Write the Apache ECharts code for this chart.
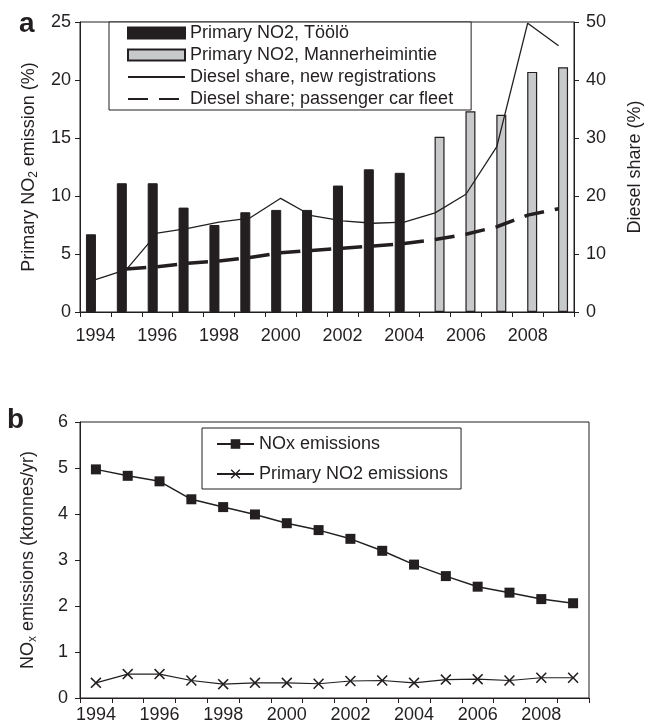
<!DOCTYPE html>
<html>
<head>
<meta charset="utf-8">
<script src="https://cdn.jsdelivr.net/npm/echarts@6/dist/echarts.min.js"></script>
<style>
html,body{margin:0;padding:0;background:#fff;}
#c{width:652px;height:725px;}
</style>
</head>
<body>
<div id="c"></div>
<script>
var years = ['1994','1995','1996','1997','1998','1999','2000','2001','2002','2003','2004','2005','2006','2007','2008','2009'];
var tooloNO2 = [6.7, 11.1, 11.1, 9.0, 7.5, 8.6, 8.8, 8.8, 10.9, 12.3, 12.0, null, null, null, null, null];
var mannerNO2 = [null, null, null, null, null, null, null, null, null, null, null, 15.1, 17.3, 17.0, 20.7, 21.1];
var dieselNew = [5.6, 7.3, 13.6, 14.4, 15.5, 16.2, 19.6, 16.6, 15.7, 15.3, 15.5, 17.1, 20.3, 28.5, 49.8, 45.9];
var dieselFleet = [null, 7.4, 7.8, 8.4, 8.8, 9.4, 10.2, 10.6, 11.0, 11.4, 11.8, 12.5, 13.4, 14.7, 16.7, 17.8];
var noxEmis = [4.97, 4.83, 4.71, 4.32, 4.15, 3.99, 3.80, 3.65, 3.46, 3.20, 2.90, 2.65, 2.42, 2.29, 2.15, 2.06];
var primNO2Emis = [0.33, 0.52, 0.52, 0.38, 0.30, 0.33, 0.33, 0.31, 0.37, 0.38, 0.33, 0.40, 0.41, 0.38, 0.44, 0.44];

var INK = '#231f20';
var FONT = "'Liberation Sans', Arial, sans-serif";
var FS = 18;
var chart = echarts.init(document.getElementById('c'), null, {renderer: 'canvas'});

function xAxisCfg(gridIndex, margin) {
  return {
    type: 'category', gridIndex: gridIndex, data: years, boundaryGap: true,
    axisLine: {lineStyle: {color: INK, width: 1}},
    axisTick: {show: true, alignWithLabel: false, interval: 0, length: 5, inside: false, lineStyle: {color: INK}},
    axisLabel: {interval: 1, color: INK, fontSize: FS, fontFamily: FONT, margin: margin},
    splitLine: {show: false}
  };
}
var hidden = {color: 'rgba(0,0,0,0)', opacity: 0, borderWidth: 0};

var option = {
  animation: false,
  backgroundColor: '#fff',
  textStyle: {fontFamily: FONT, color: INK},
  graphic: [
    {type: 'text', left: 19, top: 10, style: {text: 'a', fontSize: 28, fontWeight: 'bold', fontFamily: FONT, fill: INK}},
    {type: 'text', left: 7, top: 406, style: {text: 'b', fontSize: 28, fontWeight: 'bold', fontFamily: FONT, fill: INK}}
  ],
  grid: [
    {left: 80, top: 22, width: 518, height: 290, show: true, borderColor: INK, borderWidth: 1, backgroundColor: 'transparent'},
    {left: 80, top: 422, width: 509, height: 276, show: true, borderColor: INK, borderWidth: 1, backgroundColor: 'transparent'}
  ],
  legend: [
    {
      orient: 'vertical', left: 109, top: 22, padding: [2, 18, 2, 18], itemGap: 4,
      itemWidth: 57, itemHeight: 11,
      borderColor: INK, borderWidth: 1, backgroundColor: '#fff',
      textStyle: {fontSize: FS, color: INK, fontFamily: FONT},
      data: [
        {name: 'Primary NO2, Töölö', icon: 'rect'},
        {name: 'Primary NO2, Mannerheimintie', icon: 'rect'},
        {name: 'Diesel share, new registrations', itemStyle: hidden},
        {name: 'Diesel share; passenger car fleet', itemStyle: hidden}
      ]
    },
    {
      orient: 'vertical', left: 202, top: 428, padding: [7, 13, 6, 14], itemGap: 12,
      itemWidth: 37, itemHeight: 12,
      borderColor: INK, borderWidth: 1, backgroundColor: '#fff',
      textStyle: {fontSize: FS, color: INK, fontFamily: FONT},
      data: ['NOx emissions', 'Primary NO2 emissions']
    }
  ],
  xAxis: [xAxisCfg(0, 15), xAxisCfg(1, 8)],
  yAxis: [
    {
      type: 'value', gridIndex: 0, min: 0, max: 25, interval: 5, position: 'left',
      name: '{n|Primary NO}{s|2}{n| emission (%)}', nameLocation: 'middle', nameGap: 32, nameRotate: 90,
      nameTextStyle: {fontSize: FS, color: INK, fontFamily: FONT,
        rich: {n: {fontSize: FS, color: INK, fontFamily: FONT}, s: {fontSize: 12, color: INK, fontFamily: FONT, padding: [10, 0, 0, 0]}}},
      axisLine: {show: true, lineStyle: {color: INK}},
      axisTick: {show: true, length: 5, lineStyle: {color: INK}},
      axisLabel: {color: INK, fontSize: FS, fontFamily: FONT, margin: 9},
      splitLine: {show: false}
    },
    {
      type: 'value', gridIndex: 0, min: 0, max: 50, interval: 10, position: 'right',
      name: 'Diesel share (%)', nameLocation: 'middle', nameGap: 52, nameRotate: 90,
      nameTextStyle: {fontSize: FS, color: INK, fontFamily: FONT},
      axisLine: {show: true, lineStyle: {color: INK}},
      axisTick: {show: true, length: 5, lineStyle: {color: INK}},
      axisLabel: {color: INK, fontSize: FS, fontFamily: FONT, margin: 12},
      splitLine: {show: false}
    },
    {
      type: 'value', gridIndex: 1, min: 0, max: 6, interval: 1, position: 'left',
      name: '{n|NO}{s|x}{n| emissions (ktonnes/yr)}', nameLocation: 'middle', nameGap: 41, nameRotate: 90,
      nameTextStyle: {fontSize: FS, color: INK, fontFamily: FONT,
        rich: {n: {fontSize: FS, color: INK, fontFamily: FONT}, s: {fontSize: 12, color: INK, fontFamily: FONT, padding: [10, 0, 0, 0]}}},
      axisLine: {show: true, lineStyle: {color: INK}},
      axisTick: {show: true, length: 5, lineStyle: {color: INK}},
      axisLabel: {color: INK, fontSize: FS, fontFamily: FONT, margin: 12},
      splitLine: {show: false}
    }
  ],
  series: [
    {
      name: 'Primary NO2, Töölö', type: 'bar', xAxisIndex: 0, yAxisIndex: 0, data: tooloNO2,
      barWidth: 10, barGap: '-10%',
      itemStyle: {color: INK, borderColor: INK, borderWidth: 1}
    },
    {
      name: 'Primary NO2, Mannerheimintie', type: 'bar', xAxisIndex: 0, yAxisIndex: 0, data: mannerNO2,
      barWidth: 10, barGap: '-10%',
      itemStyle: {color: '#c8c9cb', borderColor: INK, borderWidth: 1.2}
    },
    {
      name: 'Diesel share, new registrations', type: 'line', xAxisIndex: 0, yAxisIndex: 1, data: dieselNew,
      symbol: 'none', lineStyle: {color: INK, width: 1.3}, itemStyle: {color: INK}, z: 5
    },
    {
      name: 'Diesel share; passenger car fleet', type: 'line', xAxisIndex: 0, yAxisIndex: 1, data: dieselFleet,
      symbol: 'none', lineStyle: {color: INK, width: 3.5, type: [20, 11]}, itemStyle: {color: INK}, z: 5
    },
    {
      name: 'NOx emissions', type: 'line', xAxisIndex: 1, yAxisIndex: 2, data: noxEmis,
      symbol: 'rect', symbolSize: 10, showSymbol: true,
      lineStyle: {color: INK, width: 1.5}, itemStyle: {color: INK, borderWidth: 0}
    },
    {
      name: 'Primary NO2 emissions', type: 'line', xAxisIndex: 1, yAxisIndex: 2, data: primNO2Emis,
      symbol: 'path://M0,1L1,0L5,4L9,0L10,1L6,5L10,9L9,10L5,6L1,10L0,9L4,5Z', symbolSize: 11, showSymbol: true,
      lineStyle: {color: INK, width: 1.2}, itemStyle: {color: INK, borderWidth: 0}
    }
  ]
};
chart.setOption(option);
</script>
</body>
</html>
